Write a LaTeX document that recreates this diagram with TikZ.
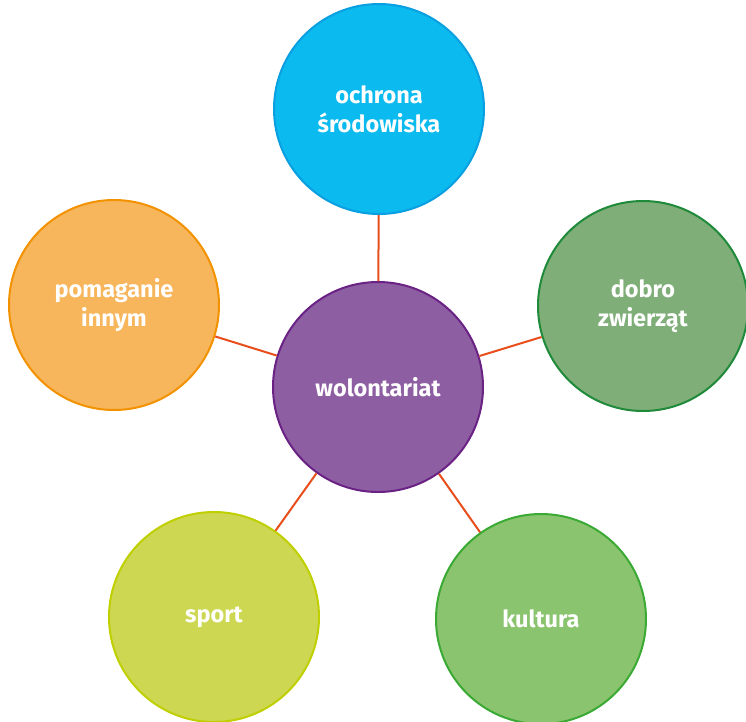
\documentclass[tikz,border=0pt]{standalone}
\usepackage{fontspec}
\setmainfont{Fira Sans}
\definecolor{conn}{HTML}{E84E1B}
\definecolor{topF}{HTML}{0BBAEE}\definecolor{topD}{HTML}{0A9FE0}
\definecolor{cenF}{HTML}{8E5EA2}\definecolor{cenD}{HTML}{6A2384}
\definecolor{lefF}{HTML}{F7B55C}\definecolor{lefD}{HTML}{F39200}
\definecolor{rigF}{HTML}{7FAE78}\definecolor{rigD}{HTML}{1F8A3A}
\definecolor{spoF}{HTML}{CDD751}\definecolor{spoD}{HTML}{BFCF00}
\definecolor{kulF}{HTML}{8BC46E}\definecolor{kulD}{HTML}{3AAA35}
\tikzset{
  bubble/.style={circle, minimum size=210pt, inner sep=0pt, line width=2pt,
    text=white, font=\fontsize{23.5}{29}\selectfont\bfseries, align=center},
  link/.style={draw=conn, line width=2pt}
}
\begin{document}
\begin{tikzpicture}[x=1pt,y=-1pt]
\useasboundingbox (0,0) rectangle (746,721);
\node[bubble, fill=topF, draw=topD] (t) at (379,109) {ochrona\\środowiska};
\node[bubble, fill=cenF, draw=cenD] (c) at (378,387) {wolontariat};
\node[bubble, fill=lefF, draw=lefD] (l) at (114,305) {pomaganie\\innym};
\node[bubble, fill=rigF, draw=rigD] (r) at (643,306) {dobro\\zwierząt};
\node[bubble, fill=spoF, draw=spoD] (bl) at (214,617) {sport};
\node[bubble, fill=kulF, draw=kulD] (br) at (541,619) {kultura};
\draw[link] (c) -- (t);
\draw[link] (c) -- (l);
\draw[link] (c) -- (r);
\draw[link] (c) -- (bl);
\draw[link] (c) -- (br);
\end{tikzpicture}
\end{document}
